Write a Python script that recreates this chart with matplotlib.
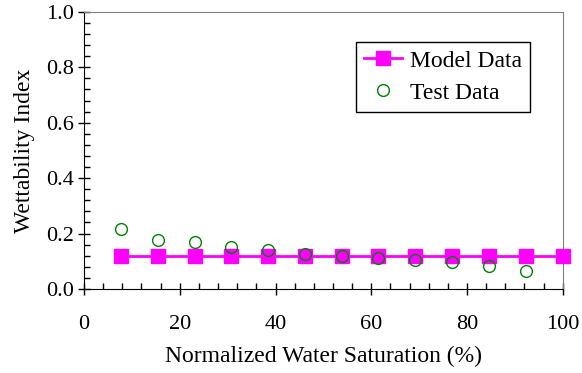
import numpy as np
import matplotlib.pyplot as plt
from matplotlib.ticker import MultipleLocator, FormatStrFormatter

plt.rcParams['font.family'] = ['Liberation Serif', 'DejaVu Serif']

# data
model_x = [7.7, 15.4, 23.1, 30.8, 38.5, 46.2, 53.8, 61.5, 69.2, 76.9, 84.6, 92.3, 100.0]
model_y = [0.12, 0.12, 0.12, 0.12, 0.12, 0.12, 0.12, 0.12, 0.12, 0.12, 0.12, 0.12, 0.12]
test_x = [7.7, 15.4, 23.1, 30.8, 38.5, 46.2, 53.8, 61.5, 69.2, 76.9, 84.6, 92.3]
test_y = [0.215, 0.176, 0.168, 0.150, 0.139, 0.127, 0.118, 0.111, 0.104, 0.097, 0.083, 0.065]

fig = plt.figure(figsize=(5.82, 3.73), dpi=100)
ax = fig.add_axes([0.1443, 0.2252, 0.8227, 0.7430])

ax.plot(model_x, model_y, color='#ff00ff', lw=2, marker='s', ms=9.5,
        mec='#ff00ff', label='Model Data', clip_on=False, zorder=3)
ax.plot(test_x, test_y, ls='none', marker='o', ms=8.5, mfc='none',
        mec='#008000', mew=1, label='Test Data', clip_on=False, zorder=4)

ax.set_xlim(0, 100)
ax.set_ylim(0, 1.0)
ax.xaxis.set_major_locator(MultipleLocator(20))
ax.xaxis.set_minor_locator(MultipleLocator(4))
ax.yaxis.set_major_locator(MultipleLocator(0.2))
ax.yaxis.set_minor_locator(MultipleLocator(0.04))
ax.yaxis.set_major_formatter(FormatStrFormatter('%.1f'))

ax.tick_params(which='major', direction='inout', length=9, width=1,
               labelsize=16, top=False, right=False)
ax.tick_params(which='minor', direction='in', length=4.3, width=1,
               top=False, right=False)
ax.tick_params(axis='x', which='major', pad=14)
ax.tick_params(axis='y', which='major', pad=3)

for s in ['top', 'right']:
    ax.spines[s].set_color('#808080')
for s in ['left', 'bottom']:
    ax.spines[s].set_color('black')

ax.set_xlabel('Normalized Water Saturation (%)', fontsize=17, labelpad=9)
ax.set_ylabel('Wettability Index', fontsize=17, labelpad=8)

leg = ax.legend(loc='upper right', bbox_to_anchor=(0.932, 0.892), fontsize=17,
                fancybox=False, edgecolor='black', framealpha=1,
                handlelength=1.6, borderpad=0.35, labelspacing=0.45,
                handletextpad=0.35, borderaxespad=0)
leg.get_frame().set_linewidth(1)

fig.savefig('out.png', dpi=100)
